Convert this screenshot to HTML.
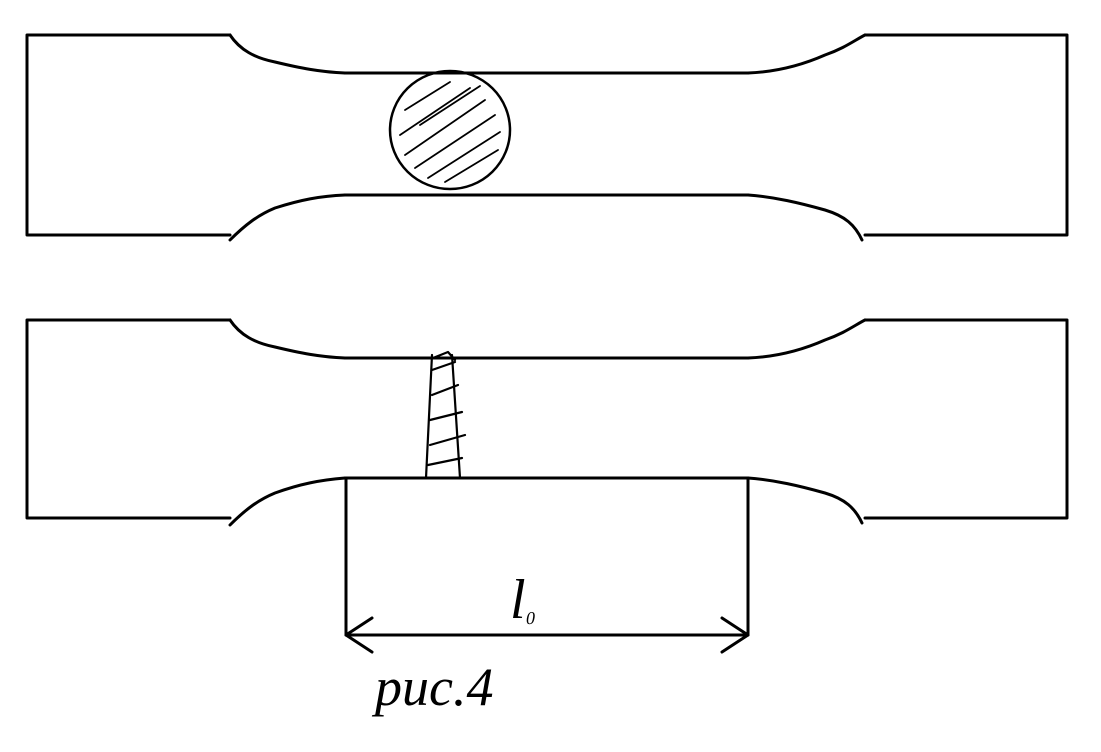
<!DOCTYPE html>
<html><head><meta charset="utf-8">
<style>
html,body{margin:0;padding:0;background:#fff;}
svg{display:block;}
</style></head>
<body>
<svg width="1101" height="752" viewBox="0 0 1101 752" fill="none" stroke="#000" stroke-width="3" stroke-linecap="round" stroke-linejoin="round">
  <g>
    <path d="M230 35 L27 35 L27 235 L230 235"/>
    <path d="M865 35 L1067 35 L1067 235 L865 235"/>
    <path d="M230 35 C240 50 255 58 275 62 C300 68 320 72 345 73"/>
    <path d="M230 240 C245 225 258 215 275 208 C300 200 320 196 345 195"/>
    <path d="M748 73 C775 72 800 66 825 55 C845 48 855 40 865 35"/>
    <path d="M748 195 C775 197 800 203 825 210 C845 216 855 225 862 240"/>
    <line x1="345" y1="73" x2="748" y2="73"/>
    <line x1="345" y1="195" x2="748" y2="195"/>
    <ellipse cx="450" cy="130" rx="60" ry="59" stroke-width="2.5"/>
    <g stroke-width="1.8">
      <path d="M405 110 L450 82"/><path d="M400 135 L470 88"/><path d="M405 155 L485 100"/>
      <path d="M415 168 L495 115"/><path d="M428 178 L500 132"/><path d="M445 182 L498 150"/>
      <path d="M420 125 L480 86"/>
    </g>
  </g>
  <g>
    <path d="M230 320 L27 320 L27 518 L230 518"/>
    <path d="M865 320 L1067 320 L1067 518 L865 518"/>
    <path d="M230 320 C240 335 255 343 275 347 C300 353 320 357 345 358"/>
    <path d="M230 525 C245 510 258 500 275 493 C300 484 320 480 345 478"/>
    <path d="M748 358 C775 357 800 351 825 340 C845 333 855 325 865 320"/>
    <path d="M748 478 C775 480 800 486 825 493 C845 499 855 508 862 523"/>
    <line x1="345" y1="358" x2="748" y2="358"/>
    <g stroke-width="2.2">
      <path d="M432 355 L426 478 M452 355 L460 478"/>
      <path d="M432 370 L455 362 M432 395 L458 385 M430 420 L462 412 M430 445 L465 435 M428 465 L462 458"/>
      <path d="M433 358 L448 352 L455 360"/>
    </g>
  </g>
  <g>
    <path d="M346 635 L346 478 L748 478 L748 635"/>
    <line x1="346" y1="635" x2="748" y2="635"/>
    <path d="M372 618 L346 635 L372 652"/>
    <path d="M722 618 L748 635 L722 652"/>
  </g>
  <text x="510" y="618" stroke="none" fill="#000" font-family="'Liberation Serif', serif" font-style="italic" font-size="56">l<tspan font-size="30">₀</tspan></text>
  <text x="375" y="705" stroke="none" fill="#000" font-family="'Liberation Serif', 'DejaVu Serif', serif" font-style="italic" font-size="54">рис.4</text>
</svg>
</body></html>
